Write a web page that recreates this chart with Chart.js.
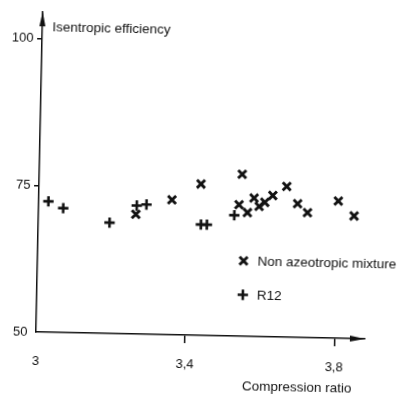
<!DOCTYPE html>
<html>
<head>
<meta charset="utf-8">
<script src="https://cdn.jsdelivr.net/npm/chart.js@4.4.1/dist/chart.umd.min.js"></script>
<style>
  html, body { margin: 0; padding: 0; background: #fff; }
  #wrap { width: 408px; height: 399px; overflow: hidden; }
  /* the scanned figure sits slightly rotated on the page */
  #chart { display: block; transform: rotate(1.2deg); transform-origin: 36px 332px; }
</style>
</head>
<body>
<div id="wrap"><canvas id="chart" width="408" height="399"></canvas></div>
<script>
// ======================
// DATA
// ======================
const xTickValues = [3, 3.4, 3.8];
const xTickLabels = ["3", "3,4", "3,8"];
const yTickValues = [50, 75, 100];
const yTickLabels = ["50", "75", "100"];

const mixtureLabel = "Non azeotropic mixture";
const mixtureRatio = [3.261, 3.357, 3.434, 3.537, 3.544, 3.560, 3.577, 3.591, 3.606, 3.627, 3.664, 3.694, 3.721, 3.803, 3.846];
const mixtureEff   = [70.4, 73.0, 75.8, 72.4, 77.6, 71.1, 73.6, 72.2, 72.9, 74.1, 75.7, 72.8, 71.3, 73.4, 70.9];

const r12Label = "R12";
const r12Ratio = [3.026, 3.066, 3.191, 3.263, 3.289, 3.436, 3.452, 3.525];
const r12Eff   = [72.3, 71.2, 68.9, 71.9, 72.1, 68.9, 68.9, 70.6];

const xTitle = "Compression ratio";
const yTitle = "Isentropic efficiency";

const INK = "#111";
const FONT = "Liberation Sans, Arial, sans-serif";

function toPoints(xs, ys) {
  return xs.map((x, i) => ({ x: x, y: ys[i] }));
}

// ======================
// MARKERS (legend)
// ======================
function drawMarker(ctx, style, x, y) {
  ctx.save();
  ctx.strokeStyle = INK;
  ctx.lineCap = "butt";
  ctx.beginPath();
  if (style === "crossRot") {
    const d = 4;
    ctx.lineWidth = 2.9;
    ctx.moveTo(x - d, y - d); ctx.lineTo(x + d, y + d);
    ctx.moveTo(x - d, y + d); ctx.lineTo(x + d, y - d);
  } else {
    const d = 5.2;
    ctx.lineWidth = 2.6;
    ctx.moveTo(x - d, y); ctx.lineTo(x + d, y);
    ctx.moveTo(x, y - d); ctx.lineTo(x, y + d);
  }
  ctx.stroke();
  ctx.restore();
}

// ======================
// AXIS ARROWS, TITLES, LEGEND
// ======================
const decorPlugin = {
  id: "decor",
  afterDraw(chart) {
    const ctx = chart.ctx;
    const a = chart.chartArea;
    ctx.save();
    ctx.fillStyle = INK;

    // arrow on y axis
    ctx.beginPath();
    ctx.moveTo(a.left, a.top);
    ctx.lineTo(a.left - 3, a.top + 15);
    ctx.lineTo(a.left + 3, a.top + 15);
    ctx.closePath();
    ctx.fill();

    // arrow on x axis
    ctx.beginPath();
    ctx.moveTo(a.right, a.bottom);
    ctx.lineTo(a.right - 15, a.bottom - 3);
    ctx.lineTo(a.right - 15, a.bottom + 3);
    ctx.closePath();
    ctx.fill();

    // axis titles
    ctx.font = "13.5px " + FONT;
    ctx.textBaseline = "middle";
    ctx.textAlign = "left";
    ctx.fillText(yTitle, a.left + 10, a.top + 16);
    ctx.fillText(xTitle, a.left + 207, a.bottom + 50);

    // legend
    const items = [
      { style: "crossRot", text: mixtureLabel, dy: 75.5 },
      { style: "cross", text: r12Label, dy: 41.5 }
    ];
    items.forEach(it => {
      const y = a.bottom - it.dy;
      drawMarker(ctx, it.style, a.left + 206, y);
      ctx.fillText(it.text, a.left + 220, y + 1);
    });
    ctx.restore();
  }
};

// ======================
// CHART
// ======================
new Chart(document.getElementById("chart"), {
  type: "scatter",
  data: {
    datasets: [
      {
        label: mixtureLabel,
        data: toPoints(mixtureRatio, mixtureEff),
        pointStyle: "crossRot",
        pointRadius: 5.7,
        pointHoverRadius: 5.7,
        borderColor: INK,
        backgroundColor: INK,
        pointBorderWidth: 2.9
      },
      {
        label: r12Label,
        data: toPoints(r12Ratio, r12Eff),
        pointStyle: "cross",
        pointRadius: 5.2,
        pointHoverRadius: 5.2,
        borderColor: INK,
        backgroundColor: INK,
        pointBorderWidth: 2.6
      }
    ]
  },
  options: {
    responsive: false,
    animation: false,
    events: [],
    layout: { padding: { top: 3, right: 43, left: 0, bottom: 0 } },
    plugins: {
      legend: { display: false },
      tooltip: { enabled: false }
    },
    scales: {
      x: {
        type: "linear",
        min: 3,
        max: 3.882,
        afterFit(scale) { scale.height = 67; },
        afterBuildTicks(scale) { scale.ticks = xTickValues.map(v => ({ value: v })); },
        border: { display: true, color: INK, width: 1.5 },
        grid: {
          display: true,
          drawOnChartArea: false,
          drawTicks: true,
          tickLength: 8,
          lineWidth: 1.5,
          color: c => (c.tick && c.tick.value === 3 ? "rgba(0,0,0,0)" : INK)
        },
        ticks: {
          color: INK,
          font: { family: FONT, size: 13 },
          padding: 14,
          maxRotation: 0,
          callback: v => xTickLabels[xTickValues.indexOf(v)]
        }
      },
      y: {
        type: "linear",
        min: 50,
        max: 104.65,
        afterFit(scale) { scale.width = 36; },
        afterBuildTicks(scale) { scale.ticks = yTickValues.map(v => ({ value: v })); },
        border: { display: true, color: INK, width: 1.5 },
        grid: {
          display: true,
          drawOnChartArea: false,
          drawTicks: true,
          tickLength: 5,
          lineWidth: 1.5,
          color: c => (c.tick && c.tick.value === 50 ? "rgba(0,0,0,0)" : INK)
        },
        ticks: {
          color: INK,
          font: { family: FONT, size: 13 },
          padding: 3.5,
          callback: v => yTickLabels[yTickValues.indexOf(v)]
        }
      }
    }
  },
  plugins: [decorPlugin]
});
</script>
</body>
</html>
